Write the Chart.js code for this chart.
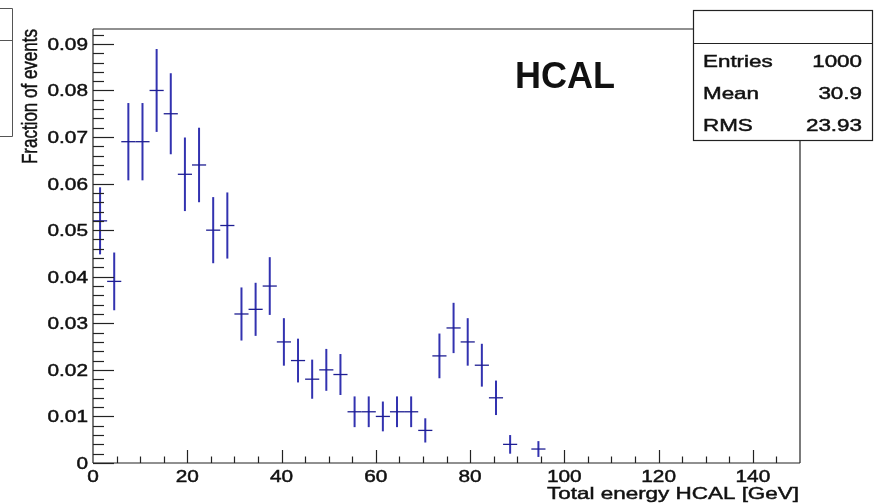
<!DOCTYPE html>
<html>
<head>
<meta charset="utf-8">
<title>HCAL total energy</title>
<script src="https://cdn.jsdelivr.net/npm/chart.js@4.4.0/dist/chart.umd.min.js"></script>
<style>
  html, body { margin: 0; padding: 0; background: #fff; }
  #wrap { width: 876px; height: 504px; position: relative; }
</style>
</head>
<body>
<div id="wrap"><canvas id="c"></canvas></div>
<script>
// histogram bins, 3 GeV wide (centres), normalised to 1000 entries
const binCenters = [1.5, 4.5, 7.5, 10.5, 13.5, 16.5, 19.5, 22.5, 25.5, 28.5,
  31.5, 34.5, 37.5, 40.5, 43.5, 46.5, 49.5, 52.5, 55.5, 58.5,
  61.5, 64.5, 67.5, 70.5, 73.5, 76.5, 79.5, 82.5, 85.5, 88.5, 94.5];
const fractions = [0.052, 0.039, 0.069, 0.069, 0.080, 0.075, 0.062, 0.064, 0.050, 0.051,
  0.032, 0.033, 0.038, 0.026, 0.022, 0.018, 0.020, 0.019, 0.011, 0.011,
  0.010, 0.011, 0.011, 0.007, 0.023, 0.029, 0.026, 0.021, 0.014, 0.004, 0.003];
const errors = [0.0072, 0.0062, 0.0083, 0.0083, 0.0089, 0.0087, 0.0079, 0.0080, 0.0071, 0.0071,
  0.0057, 0.0057, 0.0062, 0.0051, 0.0047, 0.0042, 0.0045, 0.0044, 0.0033, 0.0033,
  0.0032, 0.0033, 0.0033, 0.0026, 0.0048, 0.0054, 0.0051, 0.0046, 0.0037, 0.0020, 0.0017];
const binHalfWidth = 1.5;

const xTickValues = [0, 20, 40, 60, 80, 100, 120, 140];
const xTickLabels = ['0', '20', '40', '60', '80', '100', '120', '140'];
const yTickValues = [0, 0.01, 0.02, 0.03, 0.04, 0.05, 0.06, 0.07, 0.08, 0.09];
const yTickLabels = ['0', '0.01', '0.02', '0.03', '0.04', '0.05', '0.06', '0.07', '0.08', '0.09'];

const statsLabels = ['Entries', 'Mean', 'RMS'];
const statsValues = ['1000', '30.9', '23.93'];

const FONT = '"Liberation Sans", Arial, Helvetica, sans-serif';
const INK = '#222';

// ROOT text looks horizontally stretched, so draw it with an x scale
function text(ctx, str, x, y, size, sx, align, bold) {
  ctx.save();
  ctx.translate(x, y);
  ctx.scale(sx, 1);
  ctx.font = (bold ? 'bold ' : '') + size + 'px ' + FONT;
  ctx.fillStyle = '#111';
  ctx.strokeStyle = '#111';
  ctx.lineWidth = 0.45;
  ctx.textAlign = align;
  ctx.textBaseline = 'alphabetic';
  ctx.fillText(str, 0, 0);
  if (!bold) ctx.strokeText(str, 0, 0);
  ctx.restore();
}

function line(ctx, x1, y1, x2, y2) {
  ctx.beginPath();
  ctx.moveTo(x1, y1);
  ctx.lineTo(x2, y2);
  ctx.stroke();
}

// error bars: vertical +-err, horizontal over the bin width
const errorBars = {
  id: 'errorBars',
  afterDatasetsDraw(chart) {
    const ctx = chart.ctx;
    const xs = chart.scales.x, ys = chart.scales.y;
    const meta = chart.getDatasetMeta(0);
    ctx.save();
    meta.data.forEach((pt, i) => {
      const top = ys.getPixelForValue(fractions[i] + errors[i]);
      const bot = ys.getPixelForValue(Math.max(0, fractions[i] - errors[i]));
      ctx.strokeStyle = '#3232b0';
      ctx.lineWidth = 2;
      line(ctx, pt.x, top, pt.x, bot);
      ctx.strokeStyle = '#1e1e92';
      ctx.lineWidth = 1.3;
      line(ctx, xs.getPixelForValue(binCenters[i] - binHalfWidth), pt.y,
        xs.getPixelForValue(binCenters[i] + binHalfWidth), pt.y);
    });
    ctx.restore();
  }
};

// frame, inward ticks, labels, titles and the stats box
const rootFrame = {
  id: 'rootFrame',
  afterDraw(chart) {
    const ctx = chart.ctx;
    const a = chart.chartArea;
    const xs = chart.scales.x, ys = chart.scales.y;
    ctx.save();
    ctx.strokeStyle = INK;
    ctx.lineWidth = 1.2;
    // frame
    line(ctx, a.left, a.top, a.left, a.bottom);
    line(ctx, a.left, a.bottom, a.right, a.bottom);
    line(ctx, a.left, a.top, a.right, a.top);
    line(ctx, a.right, a.top, a.right, a.bottom);

    // y ticks: minor every 0.002, major every 0.01
    for (let k = 0; k * 0.002 <= ys.max + 1e-9; k++) {
      const py = Math.round(ys.getPixelForValue(k * 0.002)) + 0.5;
      line(ctx, a.left, py, a.left + (k % 5 === 0 ? 21 : 11), py);
    }
    // x ticks: minor every 5, major every 20
    for (let k = 1; k * 5 < xs.max; k++) {
      const px = Math.round(xs.getPixelForValue(k * 5)) + 0.5;
      line(ctx, px, a.bottom, px, a.bottom - (k % 4 === 0 ? 13 : 6.5));
    }

    // tick labels
    yTickValues.forEach((v, i) => {
      text(ctx, yTickLabels[i], a.left - 5, ys.getPixelForValue(v) + 6, 16, 1.3, 'right');
    });
    xTickValues.forEach((v, i) => {
      text(ctx, xTickLabels[i], xs.getPixelForValue(v), a.bottom + 19, 16, 1.3, 'center');
    });

    // axis titles
    text(ctx, 'Total energy HCAL [GeV]', a.right - 1, 499, 16.5, 1.36, 'right');
    ctx.save();
    ctx.translate(37, a.top);
    ctx.scale(1.3, 1);
    ctx.rotate(-Math.PI / 2);
    ctx.font = '17px ' + FONT;
    ctx.fillStyle = '#111';
    ctx.strokeStyle = '#111';
    ctx.lineWidth = 0.4;
    ctx.textAlign = 'right';
    ctx.fillText('Fraction of events', 0, 0);
    ctx.strokeText('Fraction of events', 0, 0);
    ctx.restore();

    // label inside the pad
    text(ctx, 'HCAL', 565, 88, 36, 1, 'center', true);

    // stats box (covers the top right corner of the frame)
    ctx.fillStyle = '#fff';
    ctx.fillRect(693, 10, 179, 130);
    ctx.lineWidth = 1.2;
    ctx.strokeRect(693.5, 10.5, 179, 130);
    line(ctx, 693.5, 43.5, 872.5, 43.5);
    statsLabels.forEach((lab, i) => {
      const by = 67 + i * 32;
      text(ctx, lab, 703, by, 16, 1.4, 'left');
      text(ctx, statsValues[i], 862, by, 16, 1.4, 'right');
    });

    // clipped box of a neighbouring pad, top left corner
    ctx.strokeStyle = '#555';
    ctx.lineWidth = 1;
    line(ctx, 0, 8.5, 12.5, 8.5);
    line(ctx, 12.5, 8.5, 12.5, 136.5);
    line(ctx, 0, 40.5, 12.5, 40.5);
    line(ctx, 0, 136.5, 12.5, 136.5);
    ctx.restore();
  }
};

new Chart(document.getElementById('c'), {
  type: 'scatter',
  data: {
    datasets: [{
      label: 'HCAL',
      data: binCenters.map((x, i) => ({ x: x, y: fractions[i] })),
      pointRadius: 0,
      showLine: false,
      borderColor: '#3232b0'
    }]
  },
  options: {
    responsive: true,
    maintainAspectRatio: false,
    animation: false,
    devicePixelRatio: 1,
    layout: { padding: { left: 0, top: 29, right: 76, bottom: 0 } },
    plugins: {
      legend: { display: false },
      tooltip: { enabled: false },
      title: { display: false }
    },
    scales: {
      x: {
        type: 'linear',
        min: 0,
        max: 150,
        grid: { display: false },
        border: { display: false },
        ticks: { display: false },
        afterFit: s => { s.height = 41; }
      },
      y: {
        type: 'linear',
        min: 0,
        max: 0.0932,
        grid: { display: false },
        border: { display: false },
        ticks: { display: false },
        afterFit: s => { s.width = 93; }
      }
    }
  },
  plugins: [errorBars, rootFrame]
});
</script>
</body>
</html>
